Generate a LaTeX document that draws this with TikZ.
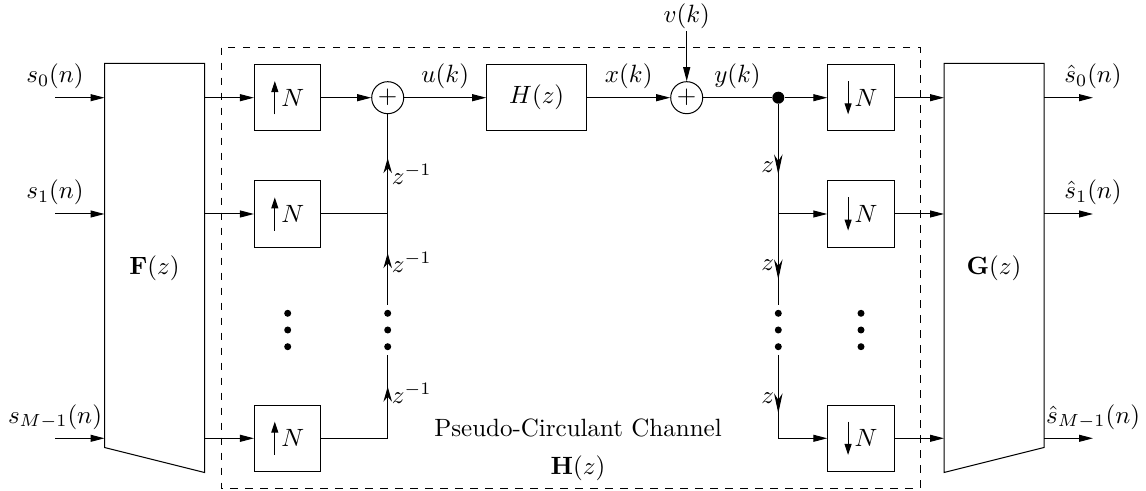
\documentclass[tikz,border=0pt]{standalone}
\usepackage{amsmath,amssymb}
\usepackage{tikz}
\usetikzlibrary{arrows.meta,positioning,calc,decorations.markings}
\tikzset{
  blk/.style={draw,minimum width=#1,minimum height=26.6pt,inner sep=0pt},
  blk/.default={26.6pt},
  bank/.style={minimum width=39.6pt,minimum height=163.2pt,inner sep=0pt},
  adder/.style={draw,circle,minimum size=12.8pt,inner sep=0pt},
  jdot/.style={circle,fill,minimum size=4.8pt,inner sep=0pt},
  edot/.style={circle,fill,minimum size=2.8pt,inner sep=0pt},
  arr/.style={-{Triangle[length=5.6pt,width=2.8pt]}},
  uparr/.style={postaction={decorate},decoration={markings,mark=at position #1 with {\arrow{Stealth[length=6pt,width=3.4pt]}}}},
  dnarr/.style={postaction={decorate},decoration={markings,mark=at position #1 with {\arrow{Stealth[length=8pt,width=3.4pt]}}}},
  lbl/.style={inner sep=1.5pt},
}
\newcommand{\upN}{\tikz[baseline=0pt]\draw[-{Triangle[length=4.4pt,width=2.8pt]}] (0,-3.3pt) -- (0,10pt);\hspace{1.2pt}$N$}
\newcommand{\dnN}{\tikz[baseline=0pt]\draw[-{Triangle[length=4.4pt,width=2.8pt]}] (0,10pt) -- (0,-3.3pt);\hspace{1.2pt}$N$}

\begin{document}
\begin{tikzpicture}[x=0.4pt,y=-0.4pt]
 \useasboundingbox (0,0) rectangle (1146,491);
 % channel frame
 \draw[dashed] (221,47.7) rectangle (920,488.3);
 \node[align=center] (chan) at (578,450) {Pseudo-Circulant Channel\\[3pt]$\mathbf{H}(z)$};
 % analysis and synthesis banks
 \node[bank] (F) at (154.5,268) {$\mathbf{F}(z)$};
 \draw (F.north west) -- (F.north east) -- (F.south east) -- ([yshift=10pt]F.south west) -- cycle;
 \node[bank] (G) at (994,268) {$\mathbf{G}(z)$};
 \draw (G.north west) -- (G.north east) -- ([yshift=10pt]G.south east) -- (G.south west) -- cycle;
 % up- and down-samplers
 \node[blk] (u0) at (287.7,97.7) {\upN};
 \node[blk] (u1) at (287.7,214) {\upN};
 \node[blk] (uM) at (287.7,438.3) {\upN};
 \node[blk] (d0) at (861,97.7) {\dnN};
 \node[blk] (d1) at (861,214) {\dnN};
 \node[blk] (dM) at (861,438.3) {\dnN};
 % channel path
 \node[adder] (a1) at (387.7,97.7) {$+$};
 \node[blk=40pt] (H) at (536.7,97.7) {$H(z)$};
 \node[adder] (a2) at (686.7,97.7) {$+$};
 \node[inner sep=1pt] (v) at (686.7,16) {$v(k)$};
 \node[jdot] (j) at (778.3,97.7) {};
 \coordinate (lt) at (387.7,305);
 \coordinate (lb) at (387.7,355);
 \coordinate (rt) at (778.3,305);
 \coordinate (rb) at (778.3,355);
 \foreach \c/\x in {p/287.7,l/387.7,r/778.3,q/861}
   \foreach \k/\y in {1/313.3,2/330,3/346.7}
     \node[edot] (\c\k) at (\x,\y) {};
 % inputs
 \coordinate (s0) at (55,97.7);
 \coordinate (s1) at (55,214);
 \coordinate (sM) at (55,438.3);
 \draw[arr] (s0) node[above]{$s_0(n)$} -- (s0 -| F.west);
 \draw[arr] (s1) node[above]{$s_1(n)$} -- (s1 -| F.west);
 \draw[arr] (sM) node[above]{$s_{M-1}(n)$} -- (sM -| F.west);
 \draw[arr] (u0 -| F.east) -- (u0);
 \draw[arr] (u1 -| F.east) -- (u1);
 \draw[arr] (uM -| F.east) -- (uM);
 % upsampler side
 \draw[arr] (u0) -- (a1);
 \draw (u1) -- (u1 -| a1);
 \draw (uM) -- (uM -| a1);
 \draw[uparr=0.62] (uM -| a1) -- node[pos=0.6,right,lbl,yshift=-2pt]{$z^{-1}$} (lb);
 \draw[uparr=0.57] (lt) -- node[pos=0.52,right,lbl,yshift=-2pt]{$z^{-1}$} (u1 -| a1);
 \draw[uparr=0.56] (u1 -| a1) -- node[pos=0.45,right,lbl,yshift=-2pt]{$z^{-1}$} (a1);
 \draw[arr] (a1) -- node[above]{$u(k)$} (H);
 \draw[arr] (H) -- node[above]{$x(k)$} (a2);
 \draw[arr] (v) -- (a2);
 \draw (a2) -- node[above]{$y(k)$} (j);
 % downsampler side
 \draw[arr] (j) -- (d0);
 \draw[dnarr=0.64] (j) -- node[pos=0.57,left,lbl]{$z$} (d1 -| j);
 \draw[dnarr=0.72] (d1 -| j) -- node[pos=0.56,left,lbl]{$z$} (rt);
 \draw[dnarr=0.7] (rb) -- node[pos=0.52,left,lbl]{$z$} (dM -| j);
 \draw[arr] (d1 -| j) -- (d1);
 \draw[arr] (dM -| j) -- (dM);
 \draw[arr] (d0) -- (d0 -| G.west);
 \draw[arr] (d1) -- (d1 -| G.west);
 \draw[arr] (dM) -- (dM -| G.west);
 % outputs
 \coordinate (o0) at (1093,97.7);
 \coordinate (o1) at (1093,214);
 \coordinate (oM) at (1093,438.3);
 \draw[arr] (o0 -| G.east) -- (o0) node[above]{$\hat{s}_0(n)$};
 \draw[arr] (o1 -| G.east) -- (o1) node[above]{$\hat{s}_1(n)$};
 \draw[arr] (oM -| G.east) -- (oM) node[above]{$\hat{s}_{M-1}(n)$};
\end{tikzpicture}
\end{document}
